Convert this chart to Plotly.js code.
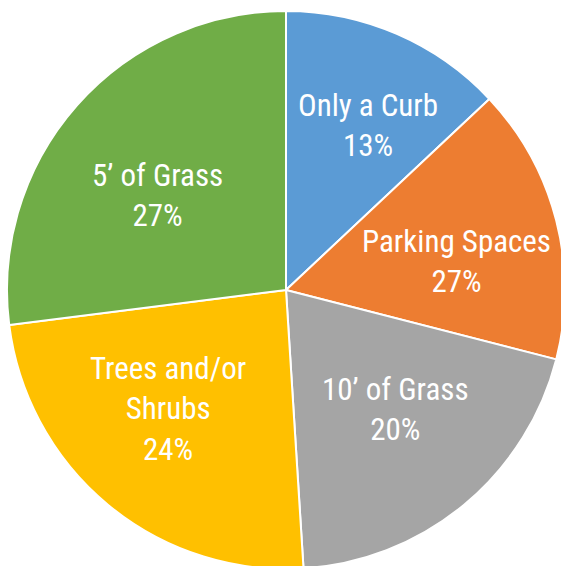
<!DOCTYPE html>
<html><head><meta charset="utf-8">
<script src="https://cdn.plot.ly/plotly-3.0.1.min.js"></script>
<style>html,body{margin:0;padding:0;width:561px;height:566px;overflow:hidden;background:#fff;}
#chart{position:absolute;left:7px;top:11px;width:558px;height:558px;}</style>
</head><body><div id="chart"></div>
<script>
const categories = ["Only a Curb", "Parking Spaces", "10’ of Grass", "Trees and/or<br>Shrubs", "5’ of Grass"];
const sliceValues = [13, 16, 20, 24, 27];
const percentLabels = ["13%", "27%", "20%", "24%", "27%"];
const colors = ["#5B9BD5", "#ED7D31", "#A5A5A5", "#FFC000", "#70AD47"];

// label placement (layout only): fraction of pie radius and angular nudge in degrees
const labelRadiusFrac = [0.66, 0.62, 0.58, 0.60, 0.57];
const labelAngleNudge = [3, 5, -3, 5, -5];

const FONT = "Roboto Condensed, Liberation Sans Narrow, Arial Narrow, sans-serif";
const total = sliceValues.reduce((a, b) => a + b, 0);
let cum = 0;
const annotations = sliceValues.map((v, i) => {
  const mid = (cum + v / 2) / total * 2 * Math.PI + labelAngleNudge[i] * Math.PI / 180;
  cum += v;
  const r = 0.5 * labelRadiusFrac[i];
  return {
    xref: "paper", yref: "paper",
    x: 0.5 + r * Math.sin(mid),
    y: 0.5 + r * Math.cos(mid),
    xanchor: "center", yanchor: "middle",
    text: categories[i] + "<br>" + percentLabels[i],
    showarrow: false,
    align: "center",
    font: {family: FONT, size: 31, color: "#ffffff"}
  };
});

Plotly.newPlot("chart", [{
  type: "pie",
  labels: categories,
  values: sliceValues,
  textinfo: "none",
  hoverinfo: "none",
  sort: false,
  direction: "clockwise",
  rotation: 0,
  marker: {colors: colors, line: {color: "#ffffff", width: 2}},
  domain: {x: [0, 1], y: [0, 1]}
}], {
  width: 558, height: 558,
  margin: {l: 0, r: 0, t: 0, b: 0},
  showlegend: false,
  annotations: annotations,
  paper_bgcolor: "rgba(0,0,0,0)"
}, {displayModeBar: false, staticPlot: true});
</script></body></html>
